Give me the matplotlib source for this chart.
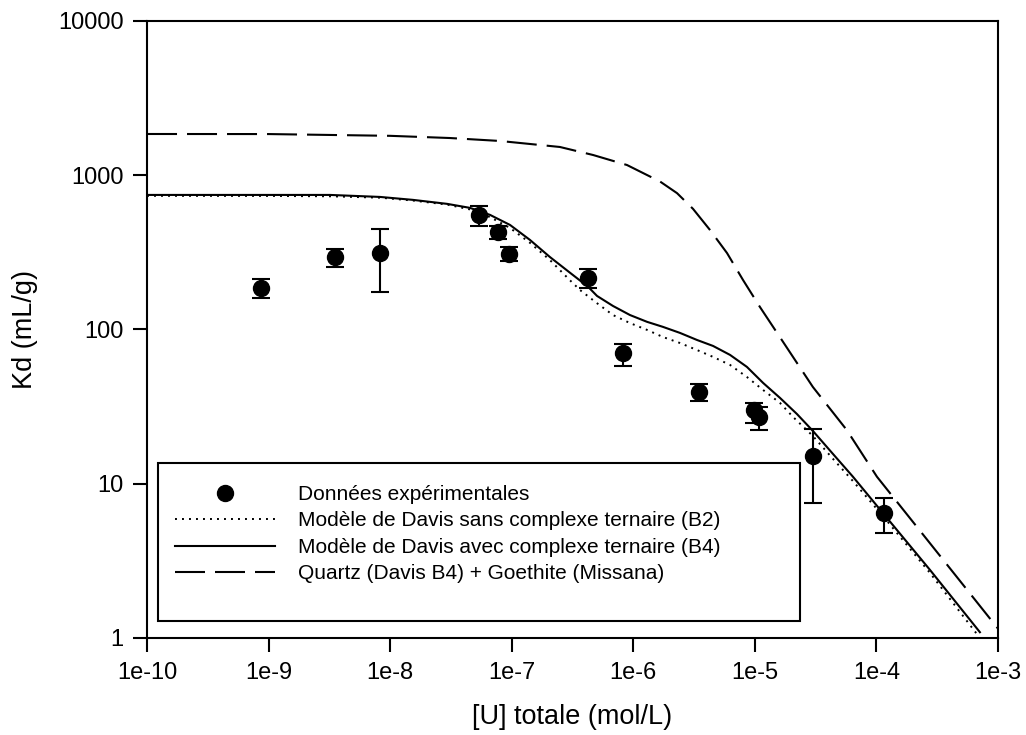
import numpy as np
import matplotlib
matplotlib.use("Agg")
import matplotlib.pyplot as plt
from matplotlib.lines import Line2D
from matplotlib.patches import Rectangle
from matplotlib.ticker import NullLocator

plt.rcParams['font.family'] = ['Liberation Sans', 'DejaVu Sans']

u_exp = [8.7e-10, 3.5e-9, 8.3e-9, 5.4e-8, 7.7e-8, 9.5e-8, 4.25e-7, 8.2e-7,
         3.47e-6, 9.8e-6, 1.08e-5, 3.0e-5, 1.15e-4]
kd_exp = [186, 295, 313, 552, 429, 308, 216, 70.5, 39.4, 30, 27, 15.1, 6.46]
kd_low = [160, 254, 175, 469, 386, 278, 186, 58, 34.4, 24.8, 22.3, 7.5, 4.8]
kd_high = [212, 333, 449, 632, 472, 343, 247, 80.5, 44.4, 33.4, 31.5, 22.6, 8.1]

# Davis model, no ternary complex (B2)
u_b2 = [1e-10, 1e-9, 3.2e-9, 8.26e-9, 1.54e-8, 2.94e-8, 4.54e-8, 6.63e-8, 9.68e-8,
        1.41e-7, 2.06e-7, 3.02e-7, 3.65e-7, 5.03e-7, 6.81e-7, 9.4e-7, 1.3e-6,
        1.75e-6, 2.42e-6, 3.34e-6, 4.53e-6, 6.25e-6, 8.6e-6, 1.17e-5, 1.61e-5,
        2.06e-5, 3.0e-5, 4.39e-5, 6.41e-5, 1.13e-4, 2.76e-4, 6.9e-4]
kd_b2 = [735, 734, 730, 715, 685, 645, 600, 535, 455,
         365, 282, 208, 180, 148, 124, 110, 99.3,
         89.4, 81.7, 73.6, 66.4, 58.9, 49.2, 40.5, 33.4,
         27.1, 20.4, 14.5, 10.4, 6.18, 2.64, 1.03]

# Davis model with ternary complex (B4)
u_b4 = [1e-10, 1e-9, 3.2e-9, 8.26e-9, 1.54e-8, 2.94e-8, 4.54e-8, 6.63e-8, 9.68e-8,
        1.41e-7, 2.06e-7, 3.02e-7, 4.25e-7, 5.03e-7, 6.81e-7, 9.4e-7, 1.3e-6,
        1.75e-6, 2.42e-6, 3.34e-6, 4.53e-6, 6.25e-6, 8.6e-6, 1.17e-5, 1.61e-5,
        2.22e-5, 3.0e-5, 4.39e-5, 6.41e-5, 1.13e-4, 2.76e-4, 7.1e-4]
kd_b4 = [745, 745, 745, 723, 692, 652, 614, 553, 476,
         381, 295, 233, 189, 165, 142, 124, 112,
         104, 95, 85.5, 78.2, 68.4, 57.2, 45, 36,
         28.3, 22.0, 15.6, 11.1, 6.46, 2.76, 1.09]

# Quartz (Davis B4) + Goethite (Missana)
u_qg = [1e-10, 1e-9, 1e-8, 3.1e-8, 8e-8, 2.49e-7, 4.67e-7, 8.88e-7, 1.66e-6,
        2.29e-6, 3.1e-6, 4.27e-6, 5.9e-6, 8.0e-6, 1.1e-5, 1.61e-5, 3.0e-5,
        5.7e-5, 1.01e-4, 1e-3]
kd_qg = [1850, 1848, 1800, 1742, 1667, 1524, 1352, 1164, 910,
         765, 605, 442, 313, 209, 140, 89, 42.4,
         22.3, 11.1, 1.15]

x_ticks = [1e-10, 1e-9, 1e-8, 1e-7, 1e-6, 1e-5, 1e-4, 1e-3]
x_labels = ['1e-10', '1e-9', '1e-8', '1e-7', '1e-6', '1e-5', '1e-4', '1e-3']
y_ticks = [1, 10, 100, 1000, 10000]
y_labels = ['1', '10', '100', '1000', '10000']

fig = plt.figure(figsize=(10.26, 7.35), dpi=100)
ax = fig.add_axes([0.1433, 0.132, 0.8294, 0.8395])

dotted = (0, (1, 2.6))
dashed = (0, (14.4, 4.8))

ax.plot(u_b2, kd_b2, color='black', lw=1.4, linestyle=dotted)
ax.plot(u_b4, kd_b4, color='black', lw=1.5)
ax.plot(u_qg, kd_qg, color='black', lw=1.5, linestyle=dashed)

kd = np.array(kd_exp)
yerr = [kd - np.array(kd_low), np.array(kd_high) - kd]
ax.errorbar(u_exp, kd_exp, yerr=yerr, fmt='o', color='black', markersize=11.5,
            elinewidth=1.5, capsize=6.8, capthick=1.5, zorder=5)

ax.set_xscale('log')
ax.set_yscale('log')
ax.set_xlim(1e-10, 1e-3)
ax.set_ylim(1, 10000)
ax.set_xticks(x_ticks, x_labels)
ax.set_yticks(y_ticks, y_labels)
ax.xaxis.set_minor_locator(NullLocator())
ax.yaxis.set_minor_locator(NullLocator())
ax.tick_params(direction='out', length=10, width=1.5, labelsize=17, pad=7)
for s in ax.spines.values():
    s.set_linewidth(1.5)

ax.set_xlabel('[U] totale (mol/L)', fontsize=19.5)
ax.set_ylabel('Kd (mL/g)', fontsize=19.5)
ax.xaxis.set_label_coords(0.5, -0.107)
ax.yaxis.set_label_coords(-0.128, 0.5)

# legend box
ax.add_patch(Rectangle((0.0129, 0.0276), 0.7544, 0.256, transform=ax.transAxes,
                       facecolor='white', edgecolor='black', lw=1.5, zorder=6))
handles = [
    Line2D([], [], marker='o', color='black', linestyle='none', markersize=11.5),
    Line2D([], [], color='black', lw=1.4, linestyle=dotted),
    Line2D([], [], color='black', lw=1.5),
    Line2D([], [], color='black', lw=1.5, linestyle=dashed),
]
labels = ['Données expérimentales',
          'Modèle de Davis sans complexe ternaire (B2)',
          'Modèle de Davis avec complexe ternaire (B4)',
          'Quartz (Davis B4) + Goethite (Missana)']
leg = ax.legend(handles, labels, loc='upper left', bbox_to_anchor=(0.0327, 0.248),
                frameon=False, fontsize=15, handlelength=4.8, handletextpad=1.1,
                labelspacing=0.36, borderpad=0, borderaxespad=0)
leg.set_zorder(7)

fig.savefig('out.png', dpi=100)
